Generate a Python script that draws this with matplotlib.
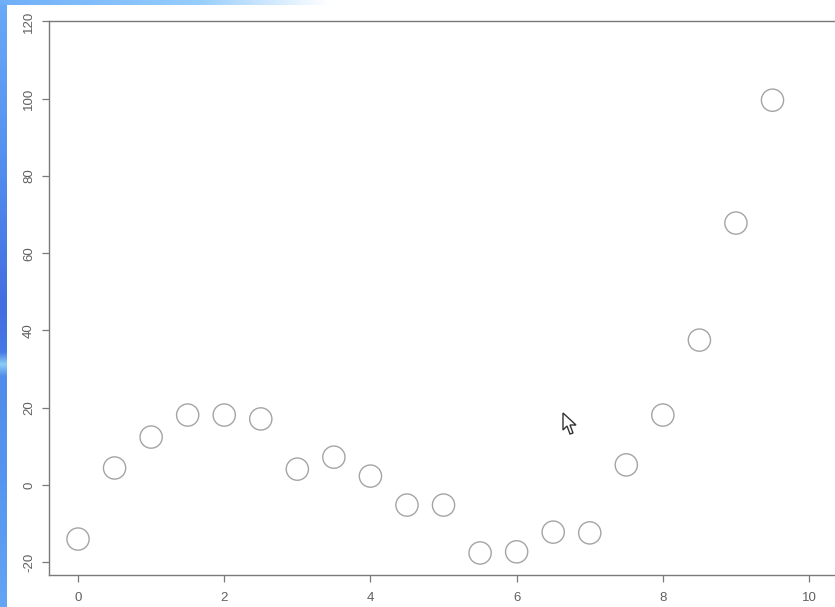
import numpy as np
import matplotlib
matplotlib.use("Agg")
import matplotlib.pyplot as plt
from matplotlib.patches import Polygon

plt.rcParams["axes.unicode_minus"] = False

# Data
x_vals = [0, 0.5, 1.0, 1.5, 2.0, 2.5, 3.0, 3.5, 4.0, 4.5,
          5.0, 5.5, 6.0, 6.5, 7.0, 7.5, 8.0, 8.5, 9.0, 9.5]
y_vals = [-14.0, 4.4, 12.4, 18.1, 18.1, 17.1, 4.1, 7.2, 2.3, -5.2,
          -5.2, -17.6, -17.3, -12.2, -12.4, 5.2, 18.1, 37.5, 67.8, 99.6]
x_ticks = [0, 2, 4, 6, 8, 10]
y_ticks = [-20, 0, 20, 40, 60, 80, 100, 120]

W, H = 835, 607
fig = plt.figure(figsize=(W / 100, H / 100), dpi=100)
fig.patch.set_facecolor("white")

# Window chrome: blue strip on the left and a fading bar along the top
bg = fig.add_axes([0, 0, 1, 1], zorder=0)
bg.axis("off")
rows = np.linspace(0, 1, H)
stops = np.array([0.0, 0.25, 0.5, 0.58, 0.6, 0.62, 0.8, 1.0])
rc = np.interp(rows, stops, [105, 85, 65, 70, 140, 80, 85, 100])
gc = np.interp(rows, stops, [170, 145, 110, 120, 205, 140, 150, 165])
bc = np.interp(rows, stops, [248, 240, 225, 230, 245, 235, 240, 245])
strip = np.stack([rc, gc, bc], axis=1)[:, None, :] / 255.0
bg.imshow(strip, extent=[0, 7, H, 0], aspect="auto", interpolation="bilinear")
cols = np.linspace(0, 1, 330)
top = np.stack([np.interp(cols, [0, 0.6, 1], [110, 150, 255]),
                np.interp(cols, [0, 0.6, 1], [175, 205, 255]),
                np.interp(cols, [0, 0.6, 1], [248, 252, 255])], axis=1)[None, :, :] / 255.0
bg.imshow(top, extent=[0, 330, 5, 0], aspect="auto", interpolation="bilinear")
bg.set_xlim(0, W)
bg.set_ylim(H, 0)

# Mouse cursor
cursor = np.array([[563, 413], [563, 430], [567, 426], [570, 434], [573, 433],
                   [570, 425], [576, 425]])
bg.add_patch(Polygon(cursor, closed=True, facecolor="white", edgecolor="#333333",
                     linewidth=1.0, zorder=5))

# Plot area
left, right, top_px, bottom_px = 49, 838, 21, 575
ax = fig.add_axes([left / W, (H - bottom_px) / H, (right - left) / W, (bottom_px - top_px) / H],
                  zorder=1)
ax.set_facecolor("none")
ax.scatter(x_vals, y_vals, s=16 ** 2, facecolors="none", edgecolors="#a4a4a4",
           linewidths=1.0, clip_on=False)
ax.set_xlim(-0.397, 10.396)
ax.set_ylim(-23.3, 120.1)
ax.set_xticks(x_ticks)
ax.set_yticks(y_ticks)
for s in ax.spines.values():
    s.set_color("#7a7a7a")
    s.set_linewidth(1.0)
ax.tick_params(direction="out", length=5, width=0.9, color="#7a7a7a",
               labelcolor="#606060", labelsize=9.5, pad=7)
ax.tick_params(axis="y", pad=5)
for lab in ax.get_yticklabels():
    lab.set_rotation(90)
    lab.set_va("center")
for lab in ax.get_xticklabels() + ax.get_yticklabels():
    lab.set_family("Liberation Sans")

fig.savefig("out.png", dpi=100)
